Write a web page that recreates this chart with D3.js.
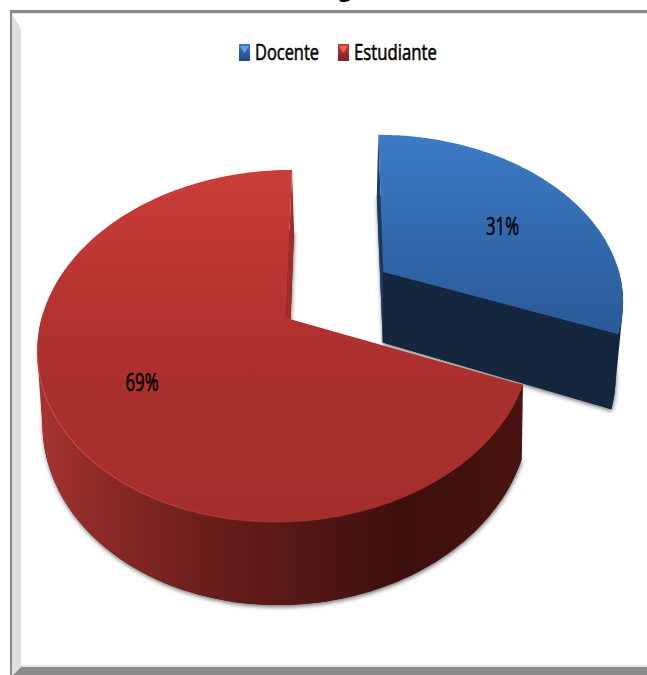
<!DOCTYPE html>
<html>
<head>
<meta charset="utf-8">
<script src="https://cdnjs.cloudflare.com/ajax/libs/d3/7.8.5/d3.min.js"></script>
<style>html,body{margin:0;padding:0;background:#fff;overflow:hidden}svg{display:block}</style>
</head>
<body>
<svg id="chart" width="647" height="675"></svg>
<script>
const categories = ["Docente", "Estudiante"];
const values = [31, 69];
const pctLabels = ["31%", "69%"];
const titleFragment = "g";

const svg = d3.select("#chart");
const defs = svg.append("defs");
const fontStack = "'Liberation Sans Narrow','Open Sans','Noto Sans',sans-serif";

function gradient(id, horizontal, range, stops) {
  const g = defs.append("linearGradient").attr("id", id).attr("gradientUnits", "userSpaceOnUse");
  if (horizontal) g.attr("x1", range[0]).attr("x2", range[1]).attr("y1", 0).attr("y2", 0);
  else g.attr("x1", 0).attr("x2", 0).attr("y1", range[0]).attr("y2", range[1]);
  stops.forEach(s => g.append("stop").attr("offset", s[0]).attr("stop-color", s[1]).attr("stop-opacity", s[2] === undefined ? 1 : s[2]));
}
gradient("redTop", false, [170, 522], [[0, "#cc3d38"], [0.5, "#ad312e"], [1, "#a32e2b"]]);
gradient("blueTop", false, [135, 332], [[0, "#3b7ac6"], [1, "#2a5a97"]]);
gradient("redWall", true, [40, 520], [[0, "#a83330"], [0.12, "#8c2a27"], [0.35, "#6a1e1c"], [0.55, "#541715"], [0.75, "#3c0f0d"], [1, "#4a1311"]]);
gradient("redRim", true, [37, 400], [[0, "#dc5450", 0.7], [0.6, "#cf4a46", 0.4], [1, "#cf4a46", 0]]);
gradient("legBlue", false, [44, 61], [[0, "#3a7cc6"], [1, "#1f4c80"]]);
gradient("legRed", false, [44, 61], [[0, "#c93c38"], [1, "#7c2220"]]);

const shadow = defs.append("filter").attr("id", "baseShadow")
  .attr("x", "-10%").attr("y", "-10%").attr("width", "120%").attr("height", "120%");
shadow.append("feDropShadow").attr("dx", 0.5).attr("dy", 2).attr("stdDeviation", 2)
  .attr("flood-color", "#000").attr("flood-opacity", 0.55);

// Frame
svg.append("rect").attr("x", 10).attr("y", 10).attr("width", 637).attr("height", 3).attr("fill", "#8c8c8c");
svg.append("rect").attr("x", 10).attr("y", 13).attr("width", 637).attr("height", 1).attr("fill", "#e4e4e4");
svg.append("rect").attr("x", 10).attr("y", 10).attr("width", 2).attr("height", 665).attr("fill", "#8c8c8c");
svg.append("path").attr("d", "M12,14 L21,29 L21,667 L12,675 Z").attr("fill", "#dedede");
svg.append("rect").attr("x", 21).attr("y", 665).attr("width", 626).attr("height", 2).attr("fill", "#e8e8e8");
svg.append("path").attr("d", "M21,667 L647,667 L647,675 L13,675 Z").attr("fill", "#8c8c8c");

// Clipped title: only the descender survives at the top of the picture
svg.append("text").attr("x", 345).attr("y", -3).attr("text-anchor", "middle")
  .attr("font-family", "'Open Sans',sans-serif").attr("font-weight", 700).attr("font-size", 22)
  .attr("fill", "#000").text(titleFragment);

// Legend
const legendSpec = [
  {sx: 239, tx: 255, tw: 64, grad: "legBlue", hi: "#5aa2ea"},
  {sx: 338, tx: 354, tw: 83, grad: "legRed", hi: "#e9625c"}
];
const legend = svg.append("g").selectAll("g").data(categories).join("g");
legend.append("rect").attr("x", (d, i) => legendSpec[i].sx).attr("y", 44).attr("width", 11).attr("height", 17)
  .attr("fill", (d, i) => `url(#${legendSpec[i].grad})`);
legend.append("path").attr("d", (d, i) => {
  const x = legendSpec[i].sx;
  return `M${x + 1},46 L${x + 10},46 L${x + 5.5},53 Z`;
}).attr("fill", (d, i) => legendSpec[i].hi);
legend.append("text").attr("x", (d, i) => legendSpec[i].tx).attr("y", 60)
  .attr("font-family", fontStack).attr("font-size", 21).attr("font-weight", 400)
  .attr("stroke", "#000").attr("stroke-width", 0.55)
  .attr("textLength", (d, i) => legendSpec[i].tw).attr("lengthAdjust", "spacingAndGlyphs")
  .attr("fill", "#000").text(d => d);

// Pie geometry: d3.pie angles pushed through a perspective projection of the tilted disc
const arcs = d3.pie().sort(null).startAngle(0).endAngle(2 * Math.PI)(values);

const views = [
  {ax: 383.3, ay: 272, a: 159, b: 235.7, c: -0.159, d: 0, s: 5.8, k: 70.6, baseB: 0.97, baseS: 1.2, baseDx: -0.5,
   top: "url(#blueTop)", wall: "#14273f", sliver: "#1a3b63", front: "#14273f"},
  {ax: 286, ay: 318, a: 171.6, b: 243.5, c: -0.159, d: 0.0035, s: -7, k: 69.8, baseB: 0.987, baseS: 1, baseDx: 2,
   top: "url(#redTop)", wall: "url(#redWall)", sliver: "#a42b29", front: null}
];

function project(view, angle, r, level) {
  const u = Math.sin(angle) * r, v = -Math.cos(angle) * r;
  const w = 1 + view.c * v + view.d * u;
  if (level === 0) return [view.ax + (view.b * u + view.s * v) / w, view.ay + view.a * v / w];
  return [view.ax + view.baseDx + (view.b * view.baseB * u + view.s * view.baseS * v) / w,
          view.ay + (view.a * v + view.k) / w];
}
function sweep(arc) {
  const n = 160;
  return d3.range(n + 1).map(i => arc.startAngle + (arc.endAngle - arc.startAngle) * i / n);
}
const line = d3.line();
const closed = pts => line(pts) + "Z";

const pieG = svg.append("g");
const order = [0, 1]; // Docente behind, Estudiante in front
order.forEach(i => {
  const arc = arcs[i], view = views[i], g = pieG.append("g");
  const angles = sweep(arc);
  const topRim = angles.map(t => project(view, t, 1, 0));
  const baseRim = angles.map(t => project(view, t, 1, 1));
  const apexTop = project(view, 0, 0, 0), apexBase = project(view, 0, 0, 1);

  // base with cast shadow
  g.append("path").attr("d", closed([apexBase, ...baseRim])).attr("fill", "#222").attr("filter", "url(#baseShadow)");
  // outer curved wall: hull of the front-facing part of both rims, so the silhouette stays tangent
  const frontAngles = angles.filter(t => Math.cos(t) < 0.05);
  const hull = d3.polygonHull([
    ...frontAngles.map(t => project(view, t, 1, 0)),
    ...frontAngles.map(t => project(view, t, 1, 1))
  ]);
  g.append("path").attr("d", closed(hull)).attr("fill", view.wall);

  if (i === 0) {
    // Docente: thin back wall and broad front wall
    g.append("path").attr("d", closed([topRim[0], apexTop, apexBase, baseRim[0]])).attr("fill", view.sliver);
    g.append("path").attr("d", closed([apexTop, topRim[topRim.length - 1], baseRim[baseRim.length - 1], apexBase])).attr("fill", view.front);
  } else {
    // Estudiante: thin wall beside the gap
    const last = topRim.length - 1;
    g.append("path").attr("d", closed([topRim[last], apexTop, apexBase, baseRim[last]])).attr("fill", view.sliver);
  }
  // top face
  g.append("path").attr("d", closed([apexTop, ...topRim])).attr("fill", view.top);

  if (i === 1) {
    const rim = angles.map(t => project(view, t, 1, 0)).filter(p => p[1] > 340);
    g.append("path").attr("d", line(rim)).attr("fill", "none").attr("stroke", "url(#redRim)").attr("stroke-width", 1.2);
  }
});

// Percent labels
const labelPos = [[502.5, 235], [142, 391]];
svg.append("g").selectAll("text").data(pctLabels).join("text")
  .attr("x", (d, i) => labelPos[i][0]).attr("y", (d, i) => labelPos[i][1])
  .attr("text-anchor", "middle").attr("font-family", fontStack).attr("font-size", 25)
  .attr("stroke", "#000").attr("stroke-width", 0.6)
  .attr("textLength", 33).attr("lengthAdjust", "spacingAndGlyphs")
  .attr("fill", "#000").text(d => d);
</script>
</body>
</html>
